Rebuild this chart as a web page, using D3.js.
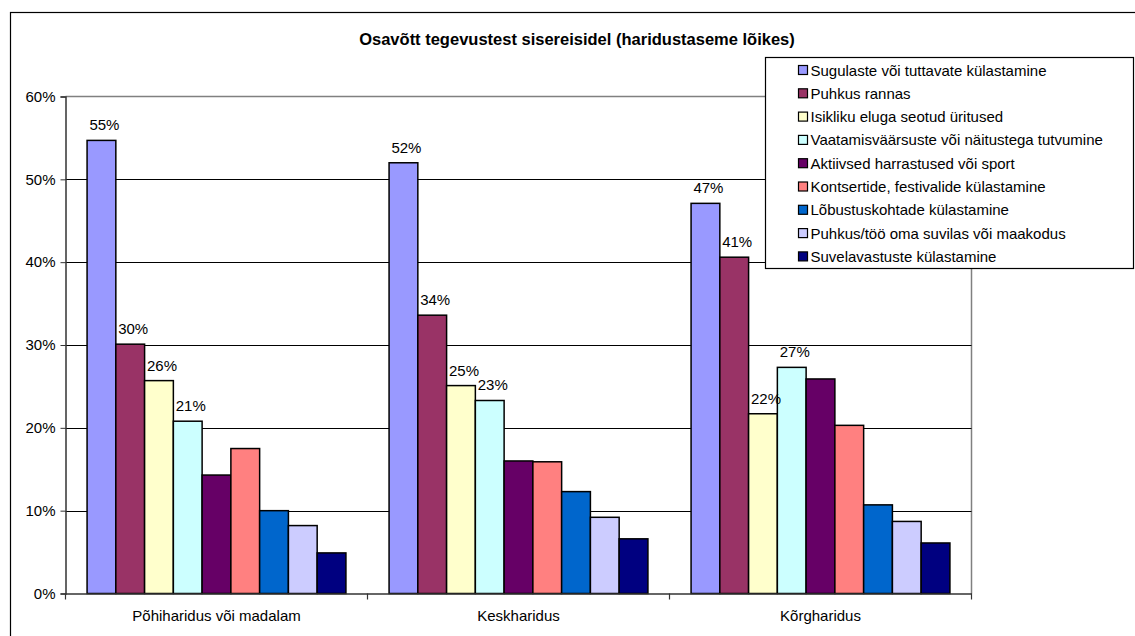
<!DOCTYPE html>
<meta charset="utf-8">
<script src="https://d3js.org/d3.v7.min.js"></script>
<style>
  body { margin: 0; background: #fff; }
  svg text { font-family: "Liberation Sans", Arial, sans-serif; fill: #000; }
</style>
<div id="chart"></div>
<script>

// chart data
var categories = ["Põhiharidus või madalam", "Keskharidus", "Kõrgharidus"];
var seriesNames = [
  "Sugulaste või tuttavate külastamine",
  "Puhkus rannas",
  "Isikliku eluga seotud üritused",
  "Vaatamisväärsuste või näitustega tutvumine",
  "Aktiivsed harrastused või sport",
  "Kontsertide, festivalide külastamine",
  "Lõbustuskohtade külastamine",
  "Puhkus/töö oma suvilas või maakodus",
  "Suvelavastuste külastamine"
];
var seriesColors = ["#9999FF", "#993366", "#FFFFCC", "#CCFFFF", "#660066",
                    "#FF8080", "#0066CC", "#CCCCFF", "#000080"];
// one array per category, values in the series order above
var pohiharidus = [0.547, 0.301, 0.257, 0.208, 0.143, 0.175, 0.100, 0.082, 0.049];
var keskharidus = [0.520, 0.336, 0.251, 0.233, 0.160, 0.159, 0.123, 0.092, 0.066];
var korgharidus = [0.471, 0.406, 0.217, 0.273, 0.259, 0.203, 0.107, 0.087, 0.061];
// only the first four series carry value labels
var labelledSeries = 4;
var yTicks = [0, 0.1, 0.2, 0.3, 0.4, 0.5, 0.6];

var values = [pohiharidus, keskharidus, korgharidus];

var width = 1135, height = 636;
var plot = {left: 65.5, right: 971.5, top: 96.5, bottom: 593.5};
var fontSize = "15px";

var svg = d3.select("#chart")
  .append("svg")
    .attr("width", width)
    .attr("height", height);

// outer chart frame
svg.append("rect")
  .attr("x", 10.5).attr("y", 12.5)
  .attr("width", 1300).attr("height", 800)
  .attr("fill", "#fff")
  .attr("stroke", "#000")
  .attr("stroke-width", 1.2);

// title
svg.append("text")
  .attr("x", 577).attr("y", 45)
  .attr("text-anchor", "middle")
  .style("font-size", "16.5px")
  .style("font-weight", "bold")
  .text("Osavõtt tegevustest sisereisidel (haridustaseme lõikes)");

// scales
var x0 = d3.scaleBand()
  .domain(categories)
  .range([plot.left, plot.right])
  .padding(0);

var x1 = d3.scaleBand()
  .domain(d3.range(seriesNames.length))
  .range([0, x0.bandwidth()])
  .paddingInner(0)
  .paddingOuter(0.75);

var y = d3.scaleLinear()
  .domain([0, 0.6])
  .range([plot.bottom, plot.top]);

// plot frame (top/right in grey)
svg.append("path")
  .attr("d", "M" + plot.left + "," + plot.top + "H" + plot.right + "V" + plot.bottom)
  .attr("fill", "none")
  .attr("stroke", "#808080")
  .attr("stroke-width", 1.5);

// gridlines
svg.append("g")
  .selectAll("line")
  .data(yTicks.filter(function(d) { return d > 0 && d < 0.6; }))
  .enter()
  .append("line")
    .attr("x1", plot.left).attr("x2", plot.right)
    .attr("y1", function(d) { return Math.round(y(d)) + 0.5; })
    .attr("y2", function(d) { return Math.round(y(d)) + 0.5; })
    .attr("stroke", "#000")
    .attr("stroke-width", 1);

// y axis
var yAxis = svg.append("g")
  .attr("transform", "translate(" + plot.left + ",0)")
  .call(d3.axisLeft(y).tickValues(yTicks).tickFormat(d3.format(".0%")).tickSize(5).tickPadding(5));
yAxis.select(".domain").attr("stroke", "#333").attr("stroke-width", 1.5);
yAxis.selectAll(".tick line").attr("stroke", "#333");
yAxis.selectAll("text")
  .style("font-size", fontSize)
  .attr("fill", "#000");

// bars
var groups = svg.append("g")
  .selectAll("g")
  .data(categories)
  .enter()
  .append("g")
    .attr("transform", function(d) { return "translate(" + x0(d) + ",0)"; });

groups.selectAll("rect")
  .data(function(d, i) { return values[i].map(function(v, j) { return {s: j, v: v}; }); })
  .enter()
  .append("rect")
    .attr("x", function(d) { return x1(d.s); })
    .attr("y", function(d) { return y(d.v); })
    .attr("width", x1.bandwidth())
    .attr("height", function(d) { return y(0) - y(d.v); })
    .attr("fill", function(d) { return seriesColors[d.s]; })
    .attr("stroke", "#000")
    .attr("stroke-width", 1.5);

// value labels
groups.selectAll("text.lbl")
  .data(function(d, i) {
    return values[i].slice(0, labelledSeries).map(function(v, j) { return {s: j, v: v}; });
  })
  .enter()
  .append("text")
    .attr("class", "lbl")
    .attr("x", function(d) { return x1(d.s) + x1.bandwidth() / 2 + 3; })
    .attr("y", function(d) { return y(d.v) - 10; })
    .attr("text-anchor", "middle")
    .style("font-size", fontSize)
    .text(function(d) { return d3.format(".0%")(d.v); });

// x axis
var xAxis = svg.append("g")
  .attr("transform", "translate(0," + plot.bottom + ")")
  .call(d3.axisBottom(x0).tickSize(0).tickPadding(17));
xAxis.select(".domain").attr("stroke", "#333").attr("stroke-width", 1.5);
xAxis.selectAll("text").style("font-size", fontSize).attr("fill", "#000");

// category separator ticks
svg.append("g")
  .selectAll("line")
  .data(d3.range(categories.length + 1))
  .enter()
  .append("line")
    .attr("x1", function(i) { return plot.left + i * x0.step(); })
    .attr("x2", function(i) { return plot.left + i * x0.step(); })
    .attr("y1", plot.bottom).attr("y2", plot.bottom + 6)
    .attr("stroke", "#333")
    .attr("stroke-width", 1.2);

// legend
var legend = svg.append("g");
legend.append("rect")
  .attr("x", 765.5).attr("y", 57.5)
  .attr("width", 368).attr("height", 211)
  .attr("fill", "#fff")
  .attr("stroke", "#000")
  .attr("stroke-width", 1.2);

var items = legend.selectAll("g.item")
  .data(seriesNames)
  .enter()
  .append("g")
    .attr("class", "item")
    .attr("transform", function(d, i) { return "translate(798," + (70 + i * 23.3) + ")"; });

items.append("rect")
  .attr("x", 0.5).attr("y", -4.5)
  .attr("width", 9).attr("height", 9)
  .attr("fill", function(d, i) { return seriesColors[i]; })
  .attr("stroke", "#000")
  .attr("stroke-width", 1.2);

items.append("text")
  .attr("x", 12.5).attr("y", 5.5)
  .style("font-size", fontSize)
  .text(function(d) { return d; });

</script>
